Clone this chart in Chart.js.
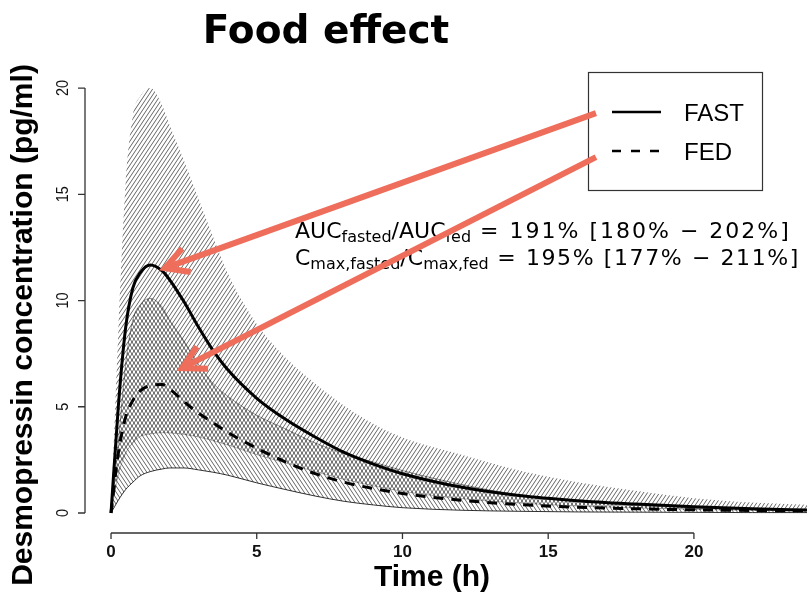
<!DOCTYPE html>
<html>
<head>
<meta charset="utf-8">
<script src="https://cdn.jsdelivr.net/npm/chart.js@4.4.1/dist/chart.umd.min.js"></script>
<style>
  html, body { margin: 0; padding: 0; background: #fff; }
  #wrap { width: 807px; height: 595px; }
</style>
</head>
<body>
<div id="wrap"><canvas id="foodChart" width="807" height="595"></canvas></div>
<script>
// time after dose (h)
const hours = [0, 0.25, 0.5, 0.75, 1, 1.35, 1.75, 2, 2.5, 3, 3.5, 4, 5, 6, 7, 8, 9, 10, 12, 14, 16, 18, 20, 22, 24];

// median profiles (pg/ml)
const fastMedian = [0, 5.0, 8.7, 10.6, 11.3, 11.67, 11.4, 11.0, 9.95, 8.75, 7.65, 6.75, 5.4, 4.4, 3.58, 2.85, 2.3, 1.85, 1.22, 0.82, 0.58, 0.42, 0.29, 0.2, 0.14];
const fedMedian = [0, 2.8, 4.5, 5.3, 5.75, 6.0, 6.05, 5.85, 5.25, 4.7, 4.25, 3.8, 3.05, 2.4, 1.85, 1.45, 1.15, 0.92, 0.6, 0.4, 0.27, 0.2, 0.15, 0.12, 0.1];

// prediction bands
const fastUpper = [0, 8.5, 15.5, 18.7, 19.6, 20.0, 19.2, 18.3, 16.6, 14.8, 13.0, 11.3, 8.9, 7.3, 6.1, 5.05, 4.2, 3.55, 2.75, 2.0, 1.45, 1.05, 0.7, 0.5, 0.38];
const fastLower = [0, 1.8, 2.8, 3.3, 3.6, 3.72, 3.78, 3.77, 3.7, 3.58, 3.4, 3.2, 2.75, 2.35, 1.95, 1.58, 1.28, 1.02, 0.68, 0.47, 0.33, 0.24, 0.17, 0.12, 0.09];
const fedUpper = [0, 3.3, 7.0, 9.1, 9.8, 10.1, 9.7, 9.1, 8.1, 7.0, 6.1, 5.5, 4.6, 3.95, 3.3, 2.8, 2.4, 2.0, 1.35, 0.85, 0.55, 0.36, 0.24, 0.17, 0.12];
const fedLower = [0, 0.6, 1.1, 1.45, 1.75, 1.95, 2.07, 2.12, 2.12, 2.03, 1.92, 1.78, 1.42, 1.1, 0.8, 0.55, 0.38, 0.25, 0.13, 0.08, 0.05, 0.04, 0.03, 0.02, 0.02];

const xTicks = [0, 5, 10, 15, 20];
const yTicks = [0, 5, 10, 15, 20];
const legendLabels = ["FAST", "FED"];

// ratio text, runs with subscripts
const ratioLines = [
    [["AUC"], ["fasted", 1], ["/AUC"], ["fed", 1], [" = 191% [180% \u2212 202%]"]],
    [["C"], ["max,fasted", 1], ["/C"], ["max,fed", 1], [" = 195% [177% \u2212 211%]"]]
];

// arrows: from the legend towards the medians (data coords)
const arrows = [
    { from: [16.64, 18.82], to: [1.85, 11.53] },
    { from: [16.64, 16.75], to: [2.44, 6.82] }
];

class FoodEffectChart {
    constructor(canvasId) {
        this.canvas = document.getElementById(canvasId);
        this.ctx = this.canvas.getContext("2d");
    }

    hatch(dir) {
        const c = document.createElement("canvas");
        c.width = 4; c.height = 6;
        const g = c.getContext("2d");
        g.strokeStyle = "rgba(0,0,0,0.72)";
        g.lineWidth = 0.85;
        g.beginPath();
        for (let k = -1; k <= 1; k++) {
            if (dir > 0) { g.moveTo(k * 4, 6); g.lineTo(k * 4 + 4, 0); }
            else { g.moveTo(k * 4, 0); g.lineTo(k * 4 + 4, 6); }
        }
        g.stroke();
        return this.ctx.createPattern(c, "repeat");
    }

    points(arr) {
        return hours.map((h, i) => ({ x: h, y: arr[i] }));
    }

    decorations() {
        return {
            id: "decorations",
            afterDraw(chart) {
                const ctx = chart.ctx;
                const xs = chart.scales.x, ys = chart.scales.y;
                const area = chart.chartArea;
                ctx.save();

                // title
                ctx.fillStyle = "#000";
                ctx.font = 'bold 39px "DejaVu Sans"';
                ctx.textAlign = "center";
                ctx.textBaseline = "alphabetic";
                ctx.fillText("Food effect", 326, 43);

                // axes (R style, from first to last tick)
                ctx.strokeStyle = "#333";
                ctx.lineWidth = 1.3;
                const yAxisX = area.left + 1;
                const xAxisY = area.bottom;
                ctx.beginPath();
                ctx.moveTo(yAxisX, ys.getPixelForValue(yTicks[0]));
                ctx.lineTo(yAxisX, ys.getPixelForValue(yTicks[yTicks.length - 1]));
                yTicks.forEach(v => {
                    const py = ys.getPixelForValue(v);
                    ctx.moveTo(yAxisX, py);
                    ctx.lineTo(yAxisX - 7, py);
                });
                ctx.moveTo(xs.getPixelForValue(xTicks[0]), xAxisY);
                ctx.lineTo(xs.getPixelForValue(xTicks[xTicks.length - 1]), xAxisY);
                xTicks.forEach(v => {
                    const px = xs.getPixelForValue(v);
                    ctx.moveTo(px, xAxisY);
                    ctx.lineTo(px, xAxisY + 6);
                });
                ctx.stroke();

                // x tick labels
                ctx.fillStyle = "#111";
                ctx.font = 'bold 17px "Liberation Sans"';
                ctx.textAlign = "center";
                xTicks.forEach(v => ctx.fillText(String(v), xs.getPixelForValue(v), 557));

                // y tick labels, rotated
                ctx.font = '17px "Liberation Sans"';
                yTicks.forEach(v => {
                    ctx.save();
                    ctx.translate(68, ys.getPixelForValue(v));
                    ctx.rotate(-Math.PI / 2);
                    ctx.scale(0.85, 1);
                    ctx.fillText(String(v), 0, 0);
                    ctx.restore();
                });

                // axis titles
                ctx.fillStyle = "#000";
                ctx.font = 'bold 30px "Liberation Sans"';
                ctx.fillText("Time (h)", 432, 586);
                ctx.save();
                ctx.translate(32, 325);
                ctx.rotate(-Math.PI / 2);
                ctx.fillText("Desmopressin concentration (pg/ml)", 0, 0);
                ctx.restore();

                // legend
                ctx.strokeStyle = "#333";
                ctx.lineWidth = 1.2;
                ctx.strokeRect(588.5, 72.5, 174, 118);
                ctx.strokeStyle = "#000";
                ctx.lineWidth = 2.5;
                [112, 151].forEach((ly, i) => {
                    ctx.setLineDash(i === 0 ? [] : [9, 10]);
                    ctx.beginPath();
                    ctx.moveTo(612, ly);
                    ctx.lineTo(661, ly);
                    ctx.stroke();
                });
                ctx.setLineDash([]);
                ctx.font = '24px "Liberation Sans"';
                ctx.textAlign = "left";
                ctx.fillText(legendLabels[0], 684, 121);
                ctx.fillText(legendLabels[1], 684, 160);

                // ratio text
                [238, 265].forEach((by, li) => {
                    let x = 295;
                    ratioLines[li].forEach(([t, sub], ri) => {
                        ctx.font = (sub ? 16 : 22) + 'px "DejaVu Sans"';
                        ctx.letterSpacing = ri === 4 ? (li === 0 ? "2px" : "1.6px") : "0px";
                        ctx.fillText(t, x, sub ? by + 4 : by);
                        x += ctx.measureText(t).width;
                    });
                });
                ctx.letterSpacing = "0px";

                // arrows
                ctx.strokeStyle = "#EE6D5B";
                ctx.lineWidth = 6;
                ctx.lineCap = "butt";
                arrows.forEach(a => {
                    const x0 = xs.getPixelForValue(a.from[0]), y0 = ys.getPixelForValue(a.from[1]);
                    const x1 = xs.getPixelForValue(a.to[0]), y1 = ys.getPixelForValue(a.to[1]);
                    const ang = Math.atan2(y0 - y1, x0 - x1);
                    ctx.beginPath();
                    ctx.moveTo(x0, y0);
                    ctx.lineTo(x1 + 2 * Math.cos(ang), y1 + 2 * Math.sin(ang));
                    ctx.stroke();
                    ctx.beginPath();
                    ctx.moveTo(x1 + 26 * Math.cos(ang - 0.5), y1 + 26 * Math.sin(ang - 0.5));
                    ctx.lineTo(x1, y1);
                    ctx.lineTo(x1 + 26 * Math.cos(ang + 0.5), y1 + 26 * Math.sin(ang + 0.5));
                    ctx.stroke();
                });
                ctx.restore();
            }
        };
    }

    render() {
        const line = { pointRadius: 0, cubicInterpolationMode: "monotone" };
        new Chart(this.ctx, {
            type: "line",
            data: {
                datasets: [
                    { ...line, label: "FAST", data: this.points(fastMedian), borderColor: "#000", borderWidth: 3, fill: false },
                    { ...line, label: "FED", data: this.points(fedMedian), borderColor: "#000", borderWidth: 3, borderDash: [10, 8], fill: false },
                    { ...line, label: "FAST upper", data: this.points(fastUpper), borderColor: "transparent", backgroundColor: this.hatch(1), fill: 3 },
                    { ...line, label: "FAST lower", data: this.points(fastLower), borderColor: "rgba(0,0,0,0.35)", borderWidth: 0.8, fill: false },
                    { ...line, label: "FED upper", data: this.points(fedUpper), borderColor: "rgba(0,0,0,0.5)", borderWidth: 0.8, backgroundColor: this.hatch(-1), fill: 5 },
                    { ...line, label: "FED lower", data: this.points(fedLower), borderColor: "rgba(0,0,0,0.8)", borderWidth: 1, fill: false }
                ]
            },
            options: {
                responsive: false,
                animation: false,
                devicePixelRatio: 1,
                layout: { padding: { left: 84, right: 0, top: 60, bottom: 62 } },
                plugins: { legend: { display: false }, tooltip: { enabled: false } },
                scales: {
                    x: { type: "linear", min: -0.927, max: 23.88, display: false },
                    y: { min: -0.941, max: 21.32, display: false }
                }
            },
            plugins: [this.decorations()]
        });
    }
}

document.addEventListener("DOMContentLoaded", () => {
    new FoodEffectChart("foodChart").render();
});
</script>
</body>
</html>
